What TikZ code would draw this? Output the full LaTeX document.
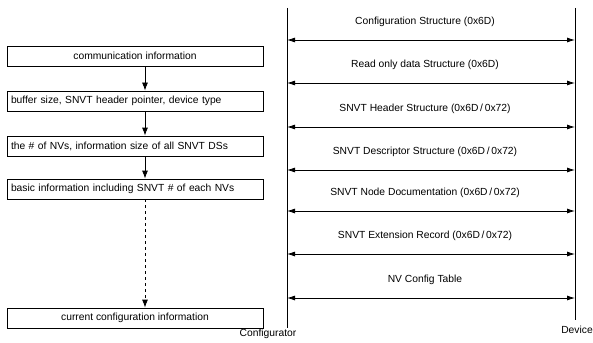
\documentclass[tikz,border=0pt]{standalone}
\usepackage{fontspec}
\setmainfont{Liberation Sans}
\usetikzlibrary{positioning,arrows.meta}

\begin{document}
\begin{tikzpicture}[x=1pt, y=-1pt, font=\fontsize{10.3}{12}\selectfont]
      \tikzset{
	  stepbox/.style={rectangle, draw=black, line width=0.8pt, minimum width=256pt, minimum height=20pt, inner sep=3pt},
	  leftbox/.style={stepbox, text width=248pt, align=left},
	  flow/.style={-{Latex[length=8pt,width=6pt]}, line width=0.8pt},
	  msg/.style={{Latex[length=8pt,width=5pt]}-{Latex[length=8pt,width=5pt]}, line width=0.8pt},
	  lifeline/.style={line width=1pt}
      }
      \useasboundingbox (0,0) rectangle (593,342);

      % configurator side
      \node at (135, 56) [stepbox] (info1) {communication information};
      \node at (135,101) [leftbox] (info2) {buffer size, SNVT header pointer, device type};
      \node at (135,146) [leftbox] (info3) {the \# of NVs, information size of all SNVT DSs};
      \node at (135,189) [leftbox] (info4) {basic information including SNVT \# of each NVs};
      \node at (135,318) [stepbox] (info5) {current configuration information};

      \coordinate (flowx) at (145,0);
      \draw[flow] (info1.south -| flowx) -- (info2.north -| flowx);
      \draw[flow] (info2.south -| flowx) -- (info3.north -| flowx);
      \draw[flow] (info3.south -| flowx) -- (info4.north -| flowx);
      \draw[flow, dashed] (info4.south -| flowx) -- (info5.north -| flowx);

      % lifelines
      \coordinate (conftop) at (287,8);
      \coordinate (confbot) at (287,328);
      \coordinate (devtop) at (575,8);
      \coordinate (devbot) at (575,320);
      \draw[lifeline] (conftop) -- (confbot);
      \draw[lifeline] (devtop) -- (devbot);
      \node at (268,334) (conf) {Configurator};
      \node at (577,330) (dev) {Device};

      % messages
      \foreach \y/\txt [count=\i] in {40/{Configuration Structure (0x6D)},
                                      83/{Read only data Structure (0x6D)},
                                      127/{SNVT Header Structure (0x6D\,/\,0x72)},
                                      170/{SNVT Descriptor Structure (0x6D\,/\,0x72)},
                                      211/{SNVT Node Documentation (0x6D\,/\,0x72)},
                                      254/{SNVT Extension Record (0x6D\,/\,0x72)},
                                      298/{NV Config Table}}{
	  \coordinate (c\i) at (287,\y);
	  \coordinate (d\i) at (575,\y);
	  \draw[msg] (c\i) -- (d\i) node[midway, above=10pt, xshift=-6pt] (m\i) {\txt};
      }
    \end{tikzpicture}
\end{document}
